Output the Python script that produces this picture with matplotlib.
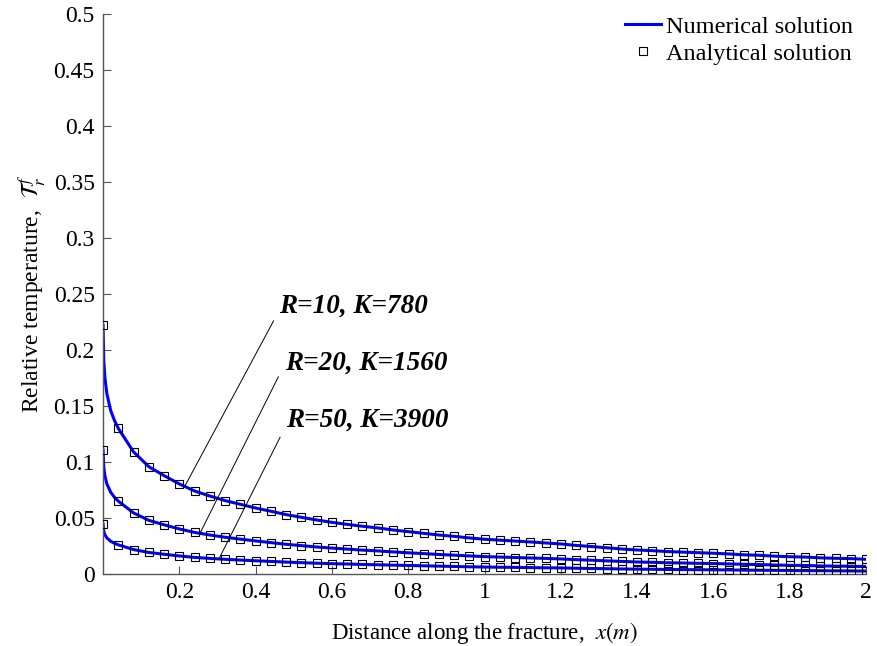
import numpy as np
import matplotlib
matplotlib.use('Agg')
import matplotlib.pyplot as plt
from matplotlib.ticker import FuncFormatter

plt.rcParams['font.family'] = ['Liberation Serif', 'DejaVu Serif']
plt.rcParams['mathtext.fontset'] = 'stix'

# analytical solution, sampled every 0.04 m
x_ana = [round(0.04 * i, 2) for i in range(51)]
ana_r10 = [0.222, 0.130, 0.109, 0.0958, 0.0878, 0.0804, 0.0741, 0.0696, 0.0655, 0.0622,
           0.0589, 0.0560, 0.0530, 0.0506, 0.0482, 0.0461, 0.0443, 0.0426, 0.0411, 0.0393,
           0.0378, 0.0363, 0.0348, 0.0336, 0.0322, 0.0310, 0.0302, 0.0294, 0.0286, 0.0277,
           0.0268, 0.0255, 0.0245, 0.0234, 0.0223, 0.0214, 0.0208, 0.0200, 0.0195, 0.0190,
           0.0185, 0.0179, 0.0171, 0.0167, 0.0159, 0.0154, 0.0151, 0.0144, 0.0140, 0.0137,
           0.0131]
ana_r20 = [0.111, 0.065, 0.0545, 0.0479, 0.0439, 0.0402, 0.0371, 0.0348, 0.0328, 0.0311,
           0.0295, 0.0280, 0.0265, 0.0253, 0.0241, 0.0231, 0.0222, 0.0213, 0.0206, 0.0197,
           0.0189, 0.0182, 0.0174, 0.0168, 0.0161, 0.0155, 0.0151, 0.0147, 0.0143, 0.0139,
           0.0134, 0.0128, 0.0123, 0.0117, 0.0112, 0.0107, 0.0104, 0.0100, 0.0098, 0.0095,
           0.0093, 0.0090, 0.0086, 0.0084, 0.0080, 0.0077, 0.0076, 0.0072, 0.0070, 0.0069,
           0.0066]
ana_r50 = [0.0444, 0.0260, 0.0218, 0.0192, 0.0176, 0.0161, 0.0148, 0.0139, 0.0131, 0.0124,
           0.0118, 0.0112, 0.0106, 0.0101, 0.0096, 0.0092, 0.0089, 0.0085, 0.0082, 0.0079,
           0.0076, 0.0073, 0.0070, 0.0067, 0.0064, 0.0062, 0.0060, 0.0059, 0.0057, 0.0055,
           0.0054, 0.0051, 0.0049, 0.0047, 0.0045, 0.0043, 0.0042, 0.0040, 0.0039, 0.0038,
           0.0037, 0.0036, 0.0034, 0.0033, 0.0032, 0.0031, 0.0030, 0.0029, 0.0028, 0.0027,
           0.0026]

# numerical solution: finer near the fracture inlet
x_head = [0.0, 0.002, 0.005, 0.01, 0.02, 0.03]
num_head_r10 = [0.222, 0.190, 0.175, 0.161, 0.146, 0.137]
num_head_r20 = [0.111, 0.095, 0.0875, 0.0805, 0.073, 0.0685]
num_head_r50 = [0.0444, 0.038, 0.035, 0.0322, 0.0292, 0.0274]

x_num = x_head + x_ana[1:]
num_r10 = num_head_r10 + ana_r10[1:]
num_r20 = num_head_r20 + ana_r20[1:]
num_r50 = num_head_r50 + ana_r50[1:]

labels = ['R=10, K=780', 'R=20, K=1560', 'R=50, K=3900']
label_pos = [(0.461, 0.2387), (0.477, 0.188), (0.480, 0.1375)]
leader_top = [(0.447, 0.226), (0.4595, 0.176), (0.464, 0.122)]
leader_end = [(0.215, 0.0788), (0.254, 0.0363), (0.305, 0.0143)]

fig = plt.figure(figsize=(8.77, 6.46), dpi=100)
ax = fig.add_axes([0.1175, 0.1115, 0.87, 0.8668])

for yy in [num_r10, num_r20, num_r50]:
    ax.plot(x_num, yy, color='#0000ff', lw=2.2, zorder=2)
ln = ax.lines[0]
for yy in [ana_r10, ana_r20, ana_r50]:
    ax.plot(x_ana, yy, ls='none', marker='s', ms=6, mfc='none', mec='k', mew=0.8, zorder=3)
mk = ax.lines[3]

for lab, p, t, e in zip(labels, label_pos, leader_top, leader_end):
    ax.text(p[0], p[1], lab, fontsize=19.5, fontweight='bold', fontstyle='italic',
            ha='left', va='center')
    ax.plot([t[0], e[0]], [t[1], e[1]], color='k', lw=0.7, zorder=4)

ax.set_xlim(0, 2)
ax.set_ylim(0, 0.5)
ax.set_xticks(np.arange(0.2, 2.01, 0.2))
ax.set_yticks(np.arange(0, 0.501, 0.05))
fmt = FuncFormatter(lambda v, p: ('%.2f' % v).rstrip('0').rstrip('.'))
ax.xaxis.set_major_formatter(fmt)
ax.yaxis.set_major_formatter(fmt)
ax.tick_params(direction='in', length=6, width=0.8, color='#555555', labelsize=17, pad=6)

for s in ['top', 'right']:
    ax.spines[s].set_visible(False)
for s in ['left', 'bottom']:
    ax.spines[s].set_color('#555555')
    ax.spines[s].set_linewidth(1.0)

ax.set_xlabel(r'Distance along the fracture,  $\mathit{x(m)}$', fontsize=16.5, labelpad=12)
ax.set_ylabel(r'Relative temperature,  $\mathcal{T}_r^{\,f}$', fontsize=17, labelpad=4)

ax.legend([ln, mk], ['Numerical solution', 'Analytical solution'], loc='upper right',
          bbox_to_anchor=(0.983, 0.997), frameon=False, fontsize=17.5,
          handlelength=1.5, handletextpad=0.2, labelspacing=0.2, borderaxespad=0, borderpad=0)

plt.savefig('out.png', dpi=100)
